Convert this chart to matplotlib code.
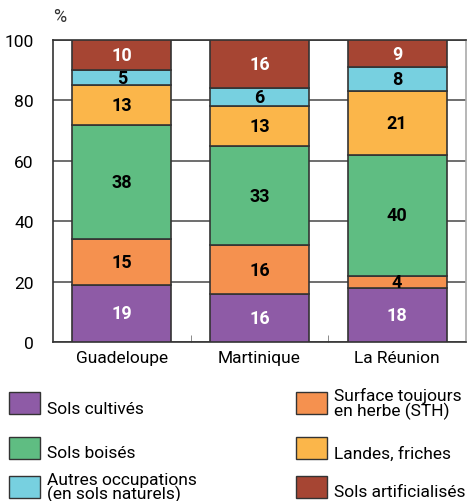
import numpy as np
import matplotlib
matplotlib.use("Agg")
import matplotlib.pyplot as plt
from matplotlib.patches import Rectangle

plt.rcParams['font.family'] = ['Roboto', 'DejaVu Sans']

regions = ["Guadeloupe", "Martinique", "La Réunion"]
sols_cultives = [19, 16, 18]
sth = [15, 16, 4]
sols_boises = [38, 33, 40]
landes = [13, 13, 21]
autres = [5, 6, 8]
artificialises = [10, 16, 9]

series = [
    ("Sols cultivés", sols_cultives, "#8E5BA6", "white"),
    ("Surface toujours\nen herbe (STH)", sth, "#F5914F", "black"),
    ("Sols boisés", sols_boises, "#5FBD82", "black"),
    ("Landes, friches", landes, "#FBB64A", "black"),
    ("Autres occupations\n(en sols naturels)", autres, "#77D0E0", "black"),
    ("Sols artificialisés", artificialises, "#A64533", "white"),
]

W, H = 467, 502
fig = plt.figure(figsize=(W / 100, H / 100), dpi=100)
ax = fig.add_axes([53 / W, 1 - 343 / H, 413 / W, 302 / H])

x = np.arange(len(regions))
bottom = np.zeros(len(regions))
for name, vals, col, tcol in series:
    vals = np.array(vals, dtype=float)
    ax.bar(x, vals, width=0.72, bottom=bottom, color=col, edgecolor="#333333",
           linewidth=1.2, zorder=3)
    for xi, b, v in zip(x, bottom, vals):
        ax.text(xi, b + v / 2, f"{int(v)}", ha="center", va="center",
                fontsize=13, fontweight="bold", color=tcol, zorder=4)
    bottom += vals

ax.set_xlim(-0.5, 2.5)
ax.set_ylim(0, 100)
ax.set_yticks([0, 20, 40, 60, 80, 100])
ax.set_xticks(x)
ax.set_xticklabels(regions, fontsize=12.5)
ax.tick_params(axis="y", length=0, pad=14, labelsize=12.5)
ax.tick_params(axis="x", length=0, pad=6)
ax.set_xticks([0.5, 1.5], minor=True)
ax.tick_params(axis="x", which="minor", direction="in", length=5, color="#777777")
ax.yaxis.grid(True, color="#555555", linewidth=1.2, zorder=0)
ax.set_axisbelow(True)
for s in ["left", "top", "bottom"]:
    ax.spines[s].set_color("#333333")
    ax.spines[s].set_linewidth(1.2)
ax.spines["right"].set_color("#aaaaaa")
ax.spines["right"].set_linewidth(1.2)

fig.text(53 / W, 1 - 17 / H, "%", fontsize=13, ha="left", va="center", color="#333333")

# legend, drawn by hand in two columns
legend_pos = [
    (9, 393), (296, 393),
    (9, 438), (296, 438),
    (9, 477), (296, 477),
]
for (name, vals, col, tcol), (lx, ly) in zip(series, legend_pos):
    fig.patches.append(Rectangle((lx / W, 1 - (ly + 22) / H), 31 / W, 22 / H,
                                 transform=fig.transFigure, facecolor=col,
                                 edgecolor="#333333", linewidth=1.0))
    if "\n" in name:
        fig.text((lx + 38) / W, 1 - (ly + 11) / H, name, fontsize=12.5,
                 ha="left", va="center", linespacing=0.85)
    else:
        fig.text((lx + 38) / W, 1 - (ly + 16) / H, name, fontsize=12.5,
                 ha="left", va="center")

fig.savefig("out.png", dpi=100)
